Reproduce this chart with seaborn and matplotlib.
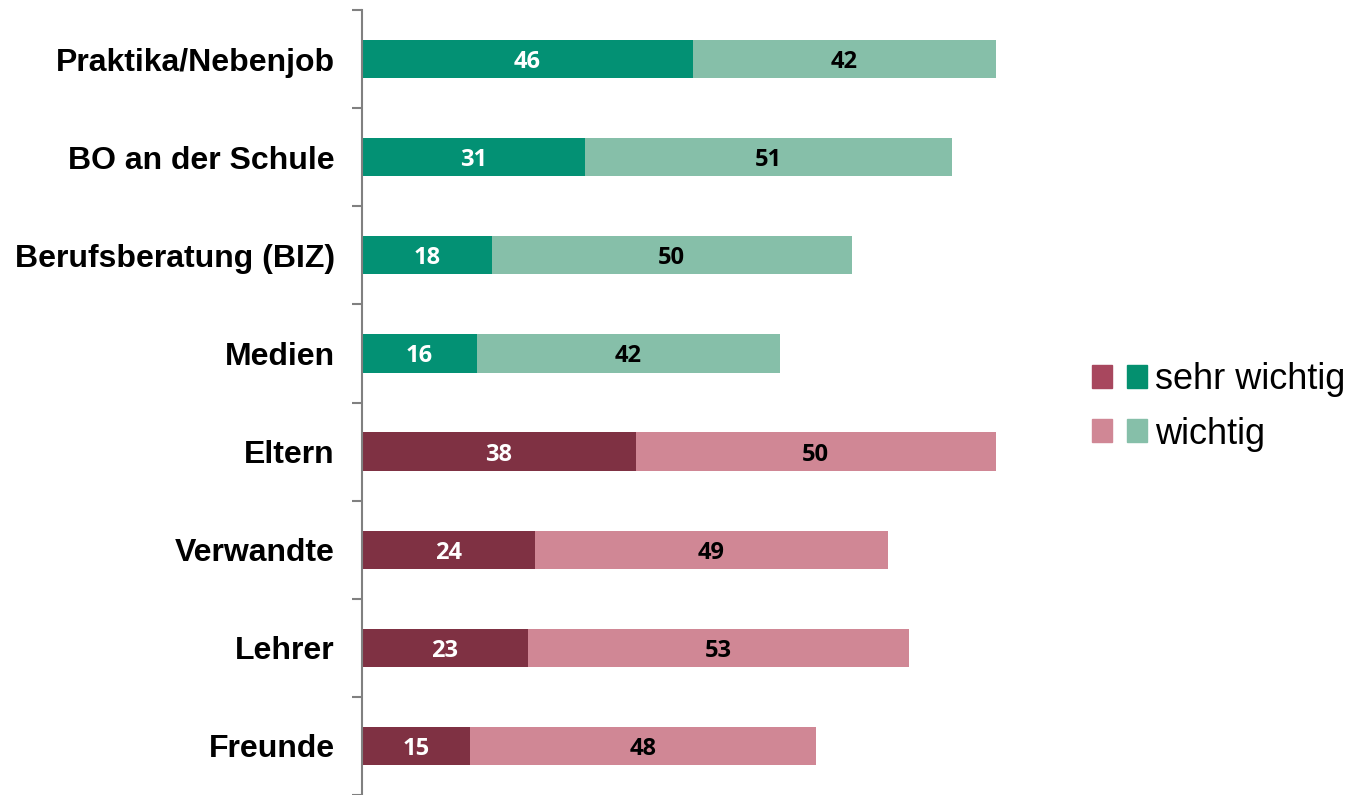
import matplotlib
matplotlib.use("Agg")
import matplotlib.pyplot as plt
import seaborn as sns
import numpy as np
import pandas as pd
from matplotlib.patches import Patch
from matplotlib.legend_handler import HandlerTuple

# Sources of career orientation, share of respondents (%)
categories = ["Praktika/Nebenjob", "BO an der Schule", "Berufsberatung (BIZ)", "Medien",
              "Eltern", "Verwandte", "Lehrer", "Freunde"]
sehr_wichtig = [46, 31, 18, 16, 38, 24, 23, 15]
wichtig = [42, 51, 50, 42, 50, 49, 53, 48]
groups = ["inst", "inst", "inst", "inst", "pers", "pers", "pers", "pers"]

dark = {"inst": "#039174", "pers": "#7F3143"}
light = {"inst": "#86BFA9", "pers": "#D08795"}
legend_dark = {"inst": "#04906F", "pers": "#A8475E"}

df = pd.DataFrame({"Quelle": categories, "sehr": sehr_wichtig, "wichtig": wichtig, "gruppe": groups})
df["gesamt"] = df["sehr"] + df["wichtig"]

sns.set_theme(style="white")
plt.rcParams["font.family"] = ["Liberation Sans", "DejaVu Sans"]

fig = plt.figure(figsize=(13.54, 7.95), dpi=100)
ax = fig.add_axes([362 / 1354, 0.0, (1082 - 362) / 1354, 1 - 10 / 795])

pal_light = {c: light[g] for c, g in zip(categories, groups)}
pal_dark = {c: dark[g] for c, g in zip(categories, groups)}

# stacked bars: full total in the light tone, "sehr wichtig" on top in the dark tone
sns.barplot(data=df, x="gesamt", y="Quelle", hue="Quelle", palette=pal_light,
            order=categories, width=0.39, legend=False, ax=ax, saturation=1, linewidth=0)
sns.barplot(data=df, x="sehr", y="Quelle", hue="Quelle", palette=pal_dark,
            order=categories, width=0.39, legend=False, ax=ax, saturation=1, linewidth=0)

lab_font = dict(family=["Open Sans", "DejaVu Sans"], fontweight="bold", fontsize=17)
for i, row in df.iterrows():
    ax.text(row["sehr"] / 2, i, str(row["sehr"]), ha="center", va="center_baseline",
            color="white", **lab_font)
    ax.text(row["sehr"] + row["wichtig"] / 2, i, str(row["wichtig"]), ha="center",
            va="center_baseline", color="black", **lab_font)

ax.set_xlim(0, 100)
ax.set_ylim(len(categories) - 0.5, -0.5)
ax.set_xlabel("")
ax.set_ylabel("")
ax.set_xticks([])
for s in ["top", "right", "bottom"]:
    ax.spines[s].set_visible(False)
ax.spines["left"].set_color("#808080")
ax.spines["left"].set_linewidth(1.5)

ax.set_yticks(range(len(categories)))
ax.set_yticklabels(categories, fontsize=23, fontweight="bold", color="black")
ax.tick_params(axis="y", which="major", length=0, pad=19.5)
ax.set_yticks(np.arange(-0.5, len(categories), 1.0), minor=True)
ax.tick_params(axis="y", which="minor", length=7, width=1.5, color="#808080", direction="out", left=True)

handles = [
    (Patch(color=legend_dark["pers"]), Patch(color=legend_dark["inst"])),
    (Patch(color=light["pers"]), Patch(color=light["inst"])),
]
fig.legend(handles, ["sehr wichtig", "wichtig"],
           handler_map={tuple: HandlerTuple(ndivide=None, pad=0.42)},
           loc="center left", bbox_to_anchor=(1092 / 1354, 1 - 407 / 795),
           frameon=False, fontsize=26, handlelength=1.52, handleheight=0.6,
           handletextpad=0.22, labelspacing=0.53, borderpad=0, borderaxespad=0,
           labelcolor="black")

fig.savefig("out.png", dpi=100)
